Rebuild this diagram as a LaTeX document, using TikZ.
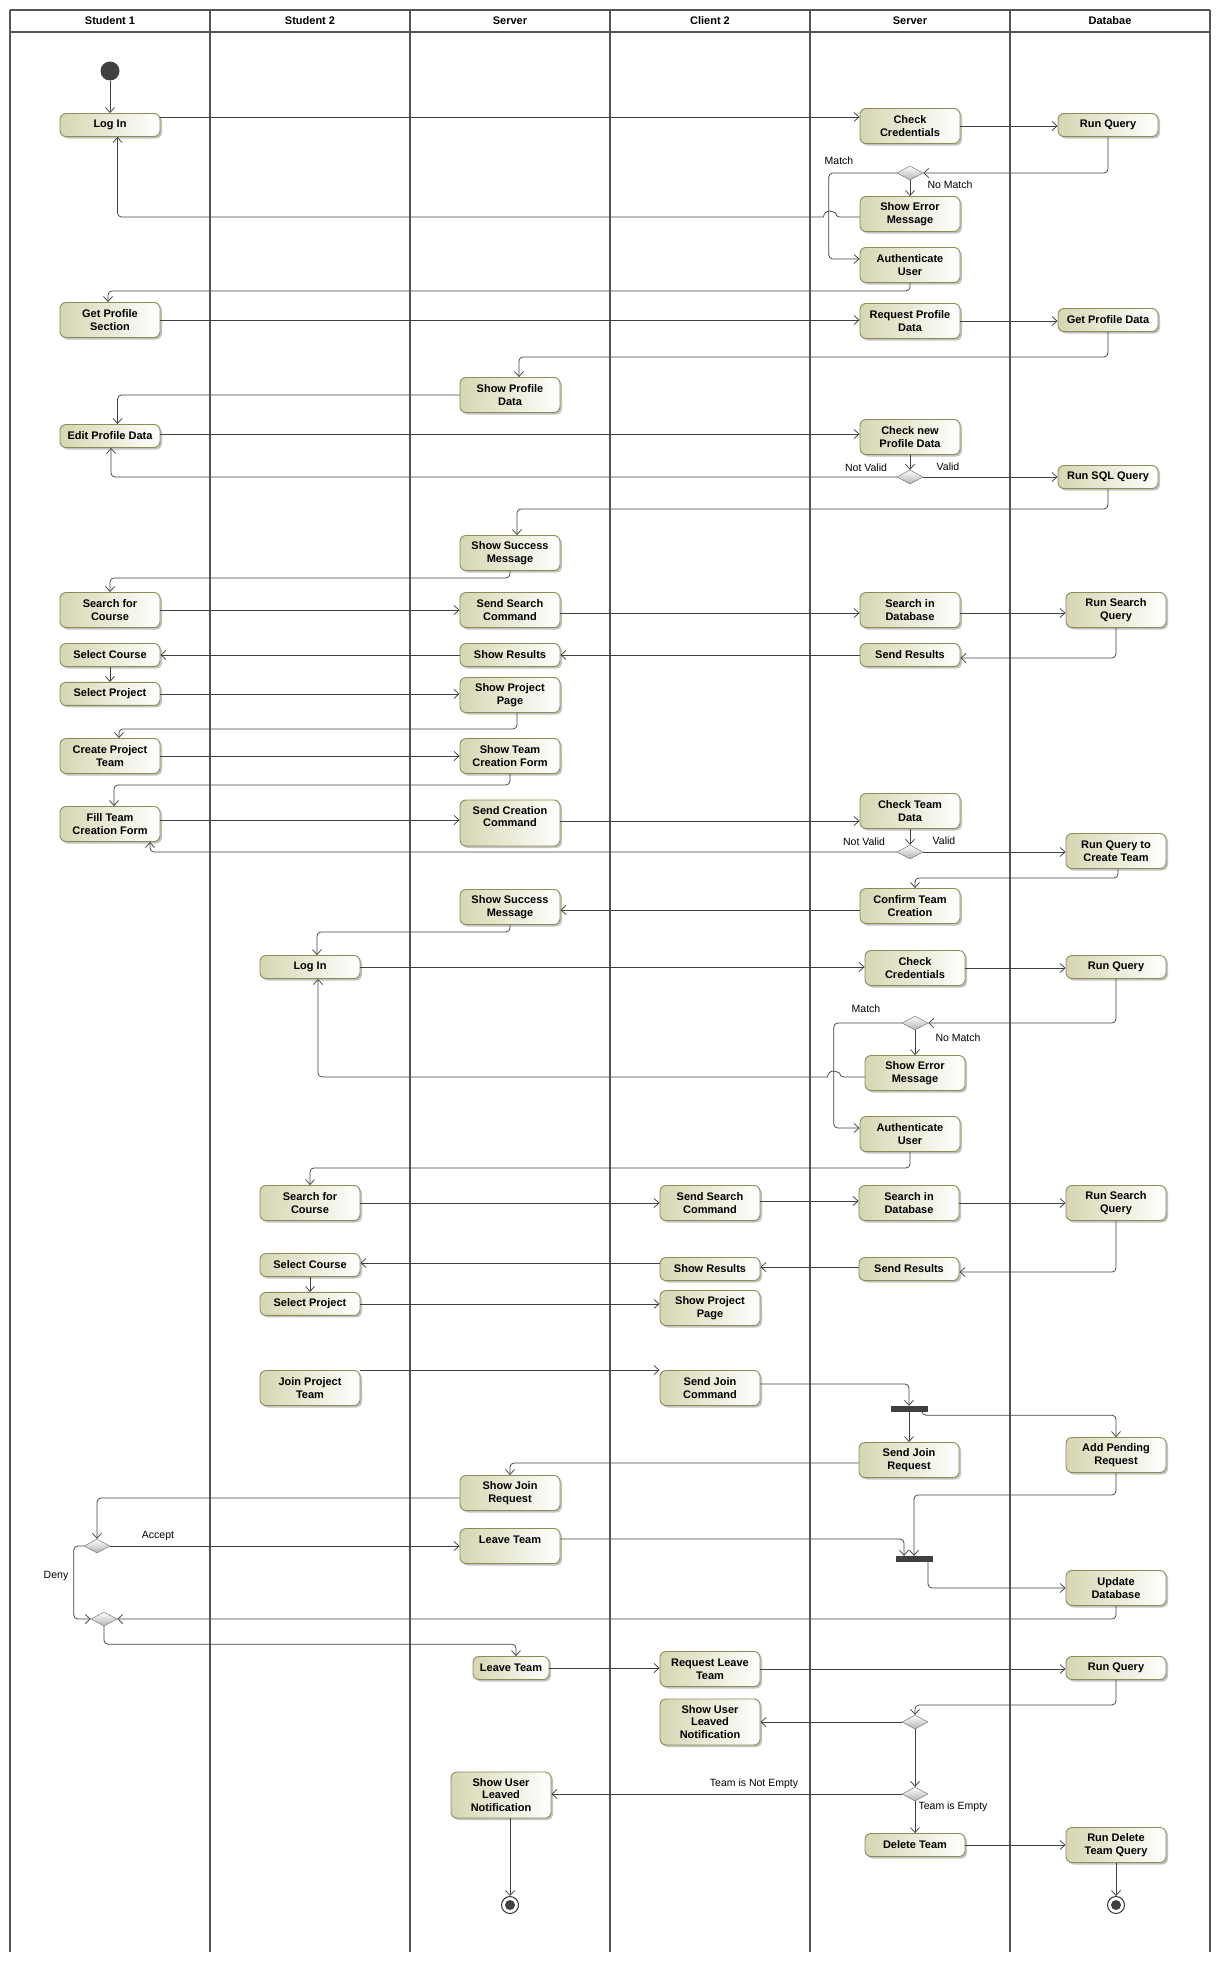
\documentclass[tikz,border=0pt]{standalone}
\usepackage{fontspec}
\setmainfont{Liberation Sans}
\usetikzlibrary{positioning,shapes.geometric,shadows,arrows.meta}
\definecolor{actfill}{RGB}{214,214,178}
\definecolor{actline}{RGB}{140,140,85}
\definecolor{flowline}{RGB}{64,64,64}
\definecolor{laneline}{RGB}{85,85,85}
\tikzset{act/.style={draw=actline, line width=0.9pt, rounded corners=6pt, left color=actfill, right color=white, minimum width=100pt, minimum height=23pt, inner sep=2pt, align=center, font=\fontsize{11}{12.5}\selectfont\bfseries, drop shadow={shadow xshift=2pt, shadow yshift=-2pt, fill=black!40, opacity=0.6}}}
\tikzset{act2/.style={act, minimum height=35pt}}
\tikzset{act3/.style={act, minimum height=46pt}}
\tikzset{decn/.style={diamond, draw=black!60, top color=white, bottom color=black!30, minimum width=26pt, minimum height=14pt, inner sep=0pt}}
\tikzset{forkbar/.style={rectangle, fill=black!75, minimum width=37pt, minimum height=6pt, inner sep=0pt}}
\tikzset{initn/.style={circle, fill=black!75, minimum size=19pt, inner sep=0pt}}
\tikzset{endn/.style={circle, draw=black!80, line width=1pt, fill=white, minimum size=17pt, inner sep=0pt, path picture={\fill[black!75] (path picture bounding box.center) circle[radius=5pt];}}}
\tikzset{lbl/.style={font=\fontsize{10.5}{12}\selectfont, inner sep=1pt}}
\tikzset{lanehead/.style={font=\fontsize{11}{12}\selectfont\bfseries}}
\tikzset{lane/.style={draw=laneline, line width=2pt}}
\tikzset{arr/.style={draw=flowline, line width=0.75pt, rounded corners=4pt, -{Straight Barb[length=5pt,width=9pt]}}}

\begin{document}
\begin{tikzpicture}[x=1pt, y=-1pt]
	\useasboundingbox (0,0) rectangle (1220,1967);
	% swimlanes
	\foreach \x in {10,210,...,1210} \draw[lane] (\x,10) -- (\x,1952);
	\draw[lane] (10,10) -- (1210,10);
	\draw[lane] (10,32) -- (1210,32);
	\foreach \i/\lname in {0/Student 1,1/Student 2,2/Server,3/Client 2,4/Server,5/Databae}
		\node[lanehead] (head\i) at ({110+200*\i},21) {\lname};
%
	% log in and profile
	\node[initn] (init) at (110,71) {};
	\node[act] (login1) at (110,125) {Log In};
	\node[act2] (chk1) at (910,126) {Check\\Credentials};
	\node[act] (rq1) at (1108,125) {Run Query};
	\node[decn] (dec1) at (910,173) {};
	\node[act2] (err1) at (910,214) {Show Error\\Message};
	\node[act2] (auth1) at (910,265) {Authenticate\\User};
	\node[act2] (getp) at (110,320) {Get Profile\\Section};
	\node[act2] (reqp) at (910,321) {Request Profile\\Data};
	\node[act] (getpd) at (1108,320) {Get Profile Data};
	\node[act2] (showp) at (510,395) {Show Profile\\Data};
	\node[act] (editp) at (110,436) {Edit Profile Data};
	\node[act2] (chknew) at (910,437) {Check new\\Profile Data};
	\node[decn] (dec2) at (910,477) {};
	\node[act] (runsql) at (1108,477) {Run SQL Query};
	\node[lbl] (tmatch1) at (839,161) {Match};
	\node[lbl] (tnomatch1) at (950,185) {No Match};
	\node[lbl] (tnotvalid1) at (866,468) {Not Valid};
	\node[lbl] (tvalid1) at (948,467) {Valid};
%
	\draw[arr] (init) -- (login1);
	\draw[arr] ([yshift=8pt]login1.east) -- ([yshift=8pt]login1.east -| chk1.west);
	\draw[arr] (chk1.east) -- (chk1.east -| rq1.west);
	\draw[arr] (rq1.south) |- (dec1.east);
	\draw[arr] (dec1) -- (err1);
	\draw[arr] (dec1.west) -- ++(-68,0) |- ([yshift=6pt]auth1.west);
	\draw[arr] ([yshift=-3pt]err1.west) -- ++(-24,0) [sharp corners] arc[start angle=0, end angle=180, radius=6pt] [rounded corners=4pt] -| ([xshift=7.5pt]login1.south);
	\draw[arr] (auth1.south) -- ++(0,8) -| ([xshift=-2pt]getp.north);
	\draw[arr] (getp.east) -- (getp.east -| reqp.west);
	\draw[arr] (reqp.east) -- (reqp.east -| getpd.west);
	\draw[arr] (getpd.south) -- ++(0,25) -| ([xshift=9pt]showp.north);
	\draw[arr] (showp.west) -| ([xshift=7.5pt]editp.north);
	\draw[arr] ([yshift=2pt]editp.east) -- ([yshift=2pt]editp.east -| chknew.west);
	\draw[arr] (chknew) -- (dec2);
	\draw[arr] (dec2.east) -- (dec2.east -| runsql.west);
	\draw[arr] (dec2.west) -| ([xshift=1pt]editp.south);
%
	% search and team creation
	\node[act2] (succ1) at (510,553) {Show Success\\Message};
	\node[act2] (srch1) at (110,610) {Search for\\Course};
	\node[act2] (sendsrch1) at (510,610) {Send Search\\Command};
	\node[act2] (srchdb1) at (910,610) {Search in\\Database};
	\node[act2] (runsrch1) at (1116,610) {Run Search\\Query};
	\node[act] (sendres1) at (910,655) {Send Results};
	\node[act] (showres1) at (510,655) {Show Results};
	\node[act] (selc1) at (110,655) {Select Course};
	\node[act, below=15pt of selc1] (selp1) {Select Project};
	\node[act2] (showpp1) at (510,695) {Show Project\\Page};
	\node[act2] (crteam) at (110,756) {Create Project\\Team};
	\node[act2] (showtf) at (510,756) {Show Team\\Creation Form};
	\node[act2] (fillt) at (110,824) {Fill Team\\Creation Form};
	\node[act3] (sendcr) at (510,823) {Send Creation\\Command\\\mbox{}};
	\node[act2] (chkteam) at (910,811) {Check Team\\Data};
	\node[decn] (dec3) at (910,852) {};
	\node[act2] (runcr) at (1116,851) {Run Query to\\Create Team};
	\node[act2] (conf) at (910,906) {Confirm Team\\Creation};
	\node[act2] (succ2) at (510,907) {Show Success\\Message};
	\node[lbl] (tnotvalid2) at (864,842) {Not Valid};
	\node[lbl] (tvalid2) at (944,841) {Valid};
%
	\draw[arr] (runsql.south) -- ++(0,20) -| ([xshift=7pt]succ1.north);
	\draw[arr] (succ1.south) -- ++(0,7) -| (srch1.north);
	\draw[arr] (srch1.east) -- (srch1.east -| sendsrch1.west);
	\draw[arr] ([yshift=-3pt]sendsrch1.east) -- ([yshift=-3pt]sendsrch1.east -| srchdb1.west);
	\draw[arr] ([yshift=-3pt]srchdb1.east) -- ([yshift=-3pt]srchdb1.east -| runsrch1.west);
	\draw[arr] (runsrch1.south) |- ([yshift=-3pt]sendres1.east);
	\draw[arr] (sendres1) -- (showres1);
	\draw[arr] (showres1) -- (selc1);
	\draw[arr] (selc1) -- (selp1);
	\draw[arr] (selp1.east) -- (selp1.east -| showpp1.west);
	\draw[arr] ([xshift=7pt]showpp1.south) -- ++(0,16) -| ([xshift=9pt]crteam.north);
	\draw[arr] (crteam) -- (showtf);
	\draw[arr] (showtf.south) -- ++(0,11) -| ([xshift=4pt]fillt.north);
	\draw[arr] ([yshift=4pt]fillt.east) -- ([yshift=4pt]fillt.east -| sendcr.west);
	\draw[arr] ([yshift=2pt]sendcr.east) -- ([yshift=2pt]sendcr.east -| chkteam.west);
	\draw[arr] (chkteam) -- (dec3);
	\draw[arr] (dec3.east) -- (dec3.east -| runcr.west);
	\draw[arr] (dec3.west) -| ([xshift=40pt]fillt.south);
	\draw[arr] ([xshift=2pt]runcr.south) -- ++(0,9) -| ([xshift=5pt]conf.north);
	\draw[arr] ([yshift=-4pt]conf.west) -- ([yshift=-4pt]conf.west -| succ2.east);
%
	% student 2
	\node[act] (login2) at (310,967) {Log In};
	\node[act2] (chk2) at (915,968) {Check\\Credentials};
	\node[act] (rq2) at (1116,967) {Run Query};
	\node[decn] (dec4) at (915,1023) {};
	\node[act2] (err2) at (915,1073) {Show Error\\Message};
	\node[act2] (auth2) at (910,1134) {Authenticate\\User};
	\node[act2] (srch2) at (310,1203) {Search for\\Course};
	\node[act2] (sendsrch2) at (710,1203) {Send Search\\Command};
	\node[act2] (srchdb2) at (909,1203) {Search in\\Database};
	\node[act2] (runsrch2) at (1116,1203) {Run Search\\Query};
	\node[act] (sendres2) at (909,1269) {Send Results};
	\node[act] (showres2) at (710,1269) {Show Results};
	\node[act] (selc2) at (310,1265) {Select Course};
	\node[act, below=15pt of selc2] (selp2) {Select Project};
	\node[act2] (showpp2) at (710,1308) {Show Project\\Page};
	\node[lbl] (tmatch2) at (866,1009) {Match};
	\node[lbl] (tnomatch2) at (958,1038) {No Match};
%
	\draw[arr] (succ2.south) -- ++(0,7) -| ([xshift=7pt]login2.north);
	\draw[arr] (login2.east) -- (login2.east -| chk2.west);
	\draw[arr] (chk2.east) -- (chk2.east -| rq2.west);
	\draw[arr] (rq2.south) |- (dec4.east);
	\draw[arr] (dec4) -- (err2);
	\draw[arr] (dec4.west) -- ++(-68,0) |- ([yshift=6pt]auth2.west);
	\draw[arr] ([yshift=-4pt]err2.west) -- ++(-25,0) [sharp corners] arc[start angle=0, end angle=180, radius=6pt] [rounded corners=4pt] -| ([xshift=8pt]login2.south);
	\draw[arr] (auth2.south) -- ++(0,16) -| (srch2.north);
	\draw[arr] (srch2.east) -- (srch2.east -| sendsrch2.west);
	\draw[arr] ([yshift=2pt]sendsrch2.east) -- ([yshift=2pt]sendsrch2.east -| srchdb2.west);
	\draw[arr] (srchdb2.east) -- (srchdb2.east -| runsrch2.west);
	\draw[arr] (runsrch2.south) |- ([yshift=-3pt]sendres2.east);
	\draw[arr] ([yshift=2pt]sendres2.west) -- ([yshift=2pt]sendres2.west -| showres2.east);
	\draw[arr] ([yshift=6pt]showres2.west) -- ([yshift=6pt]showres2.west -| selc2.east);
	\draw[arr] (selc2) -- (selp2);
	\draw[arr] (selp2.east) -- (selp2.east -| showpp2.west);
%
	% join and leave team
	\node[act2] (join) at (310,1388) {Join Project\\Team};
	\node[act2] (sendjoin) at (710,1388) {Send Join\\Command};
	\node[forkbar] (fork1) at (909,1409) {};
	\node[act2] (sendjr) at (909,1460) {Send Join\\Request};
	\node[act2] (addp) at (1116,1455) {Add Pending\\Request};
	\node[act2] (showjr) at (510,1493) {Show Join\\Request};
	\node[decn] (dec5) at (97,1546) {};
	\node[act2] (leave1) at (510,1546) {Leave Team\\\mbox{}};
	\node[forkbar] (fork2) at (914,1559) {};
	\node[act2] (upd) at (1116,1588) {Update\\Database};
	\node[decn] (merge) at (104,1619) {};
	\node[act, minimum width=76pt] (leave2) at (511,1668) {Leave Team};
	\node[act2] (reqleave) at (710,1669) {Request Leave\\Team};
	\node[act] (rq3) at (1116,1668) {Run Query};
	\node[decn] (dec6) at (915,1722) {};
	\node[act3] (notif1) at (710,1722) {Show User\\Leaved\\Notification};
	\node[decn] (dec7) at (915,1794) {};
	\node[act3] (notif2) at (501,1795) {Show User\\Leaved\\Notification};
	\node[act] (delt) at (915,1845) {Delete Team};
	\node[act2] (rundel) at (1116,1845) {Run Delete\\Team Query};
	\node[endn] (end1) at (510,1905) {};
	\node[endn] (end2) at (1116,1905) {};
	\node[lbl] (taccept) at (158,1536) {Accept};
	\node[lbl] (tdeny) at (56,1576) {Deny};
	\node[lbl] (tnotempty) at (754,1784) {Team is Not Empty};
	\node[lbl] (tempty) at (953,1807) {Team is Empty};
%
	\draw[arr] (join.north east) -- (sendjoin.north west);
	\draw[arr] ([yshift=4pt]sendjoin.east) -| (fork1.north);
	\draw[arr] (fork1) -- (sendjr);
	\draw[arr] ([xshift=13pt]fork1.south) -- ++(0,3) -| (addp.north);
	\draw[arr] ([yshift=-3pt]sendjr.west) -| (showjr.north);
	\draw[arr] ([yshift=-5pt]showjr.west) -| (dec5.north);
	\draw[arr] (dec5.east) -- (dec5.east -| leave1.west);
	\draw[arr] (dec5.west) -- ++(-10,0) |- (merge.west);
	\draw[arr] ([yshift=7pt]leave1.east) -| ([xshift=-10pt]fork2.north);
	\draw[arr] (addp.south) -- ++(0,22) -| (fork2.north);
	\draw[arr] ([xshift=14pt]fork2.south) |- (upd.west);
	\draw[arr] (upd.south) |- (merge.east);
	\draw[arr] (merge.south) -- ++(0,18) -| ([xshift=5pt]leave2.north);
	\draw[arr] (leave2.east) -- (leave2.east -| reqleave.west);
	\draw[arr] (reqleave.east) -- (reqleave.east -| rq3.west);
	\draw[arr] (rq3.south) -- ++(0,25) -| (dec6.north);
	\draw[arr] (dec6.west) -- (dec6.west -| notif1.east);
	\draw[arr] (dec6) -- (dec7);
	\draw[arr] (dec7.west) -- (dec7.west -| notif2.east);
	\draw[arr] (dec7) -- (delt);
	\draw[arr] (delt.east) -- (delt.east -| rundel.west);
	\draw[arr] (rundel) -- (end2);
	\draw[arr] ([xshift=9pt]notif2.south) -- (end1.north);
\end{tikzpicture}
\end{document}
